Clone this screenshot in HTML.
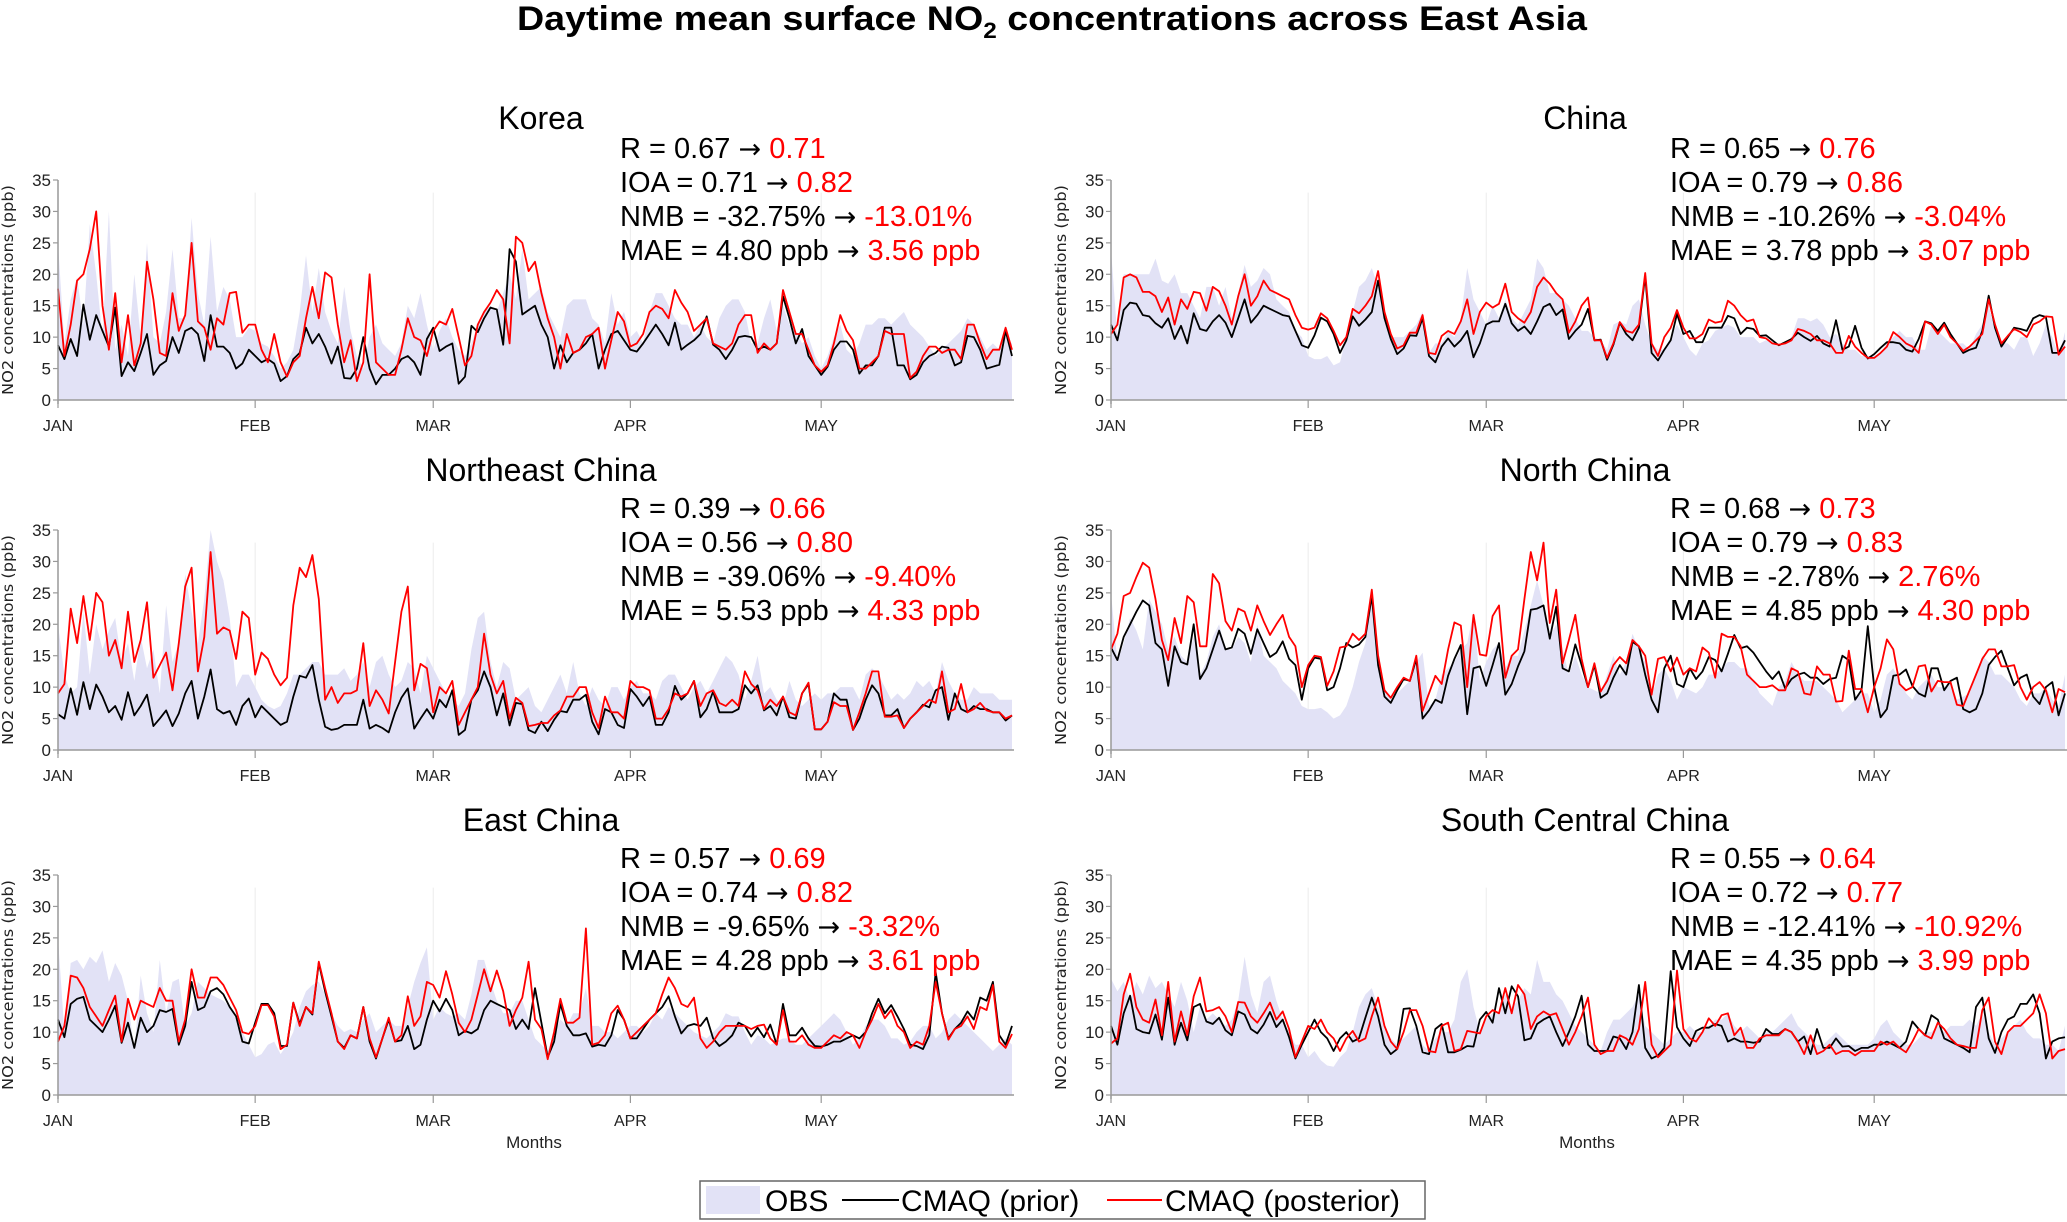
<!DOCTYPE html>
<html><head><meta charset="utf-8"><style>
html,body{margin:0;padding:0;background:#fff;}
svg{display:block;font-family:"Liberation Sans",sans-serif;}
</style></head><body>
<svg id="fig" width="2067" height="1222" viewBox="0 0 2067 1222" xmlns="http://www.w3.org/2000/svg">
<text x="1052" y="30" text-anchor="middle" font-size="34" font-weight="bold" textLength="1070" lengthAdjust="spacingAndGlyphs">Daytime mean surface NO<tspan font-size="22" dy="8">2</tspan><tspan dy="-8"> concentrations across East Asia</tspan></text>
<g id="panels"></g>
<g>
<rect x="700" y="1181" width="725" height="38" fill="#fff" stroke="#666" stroke-width="1.5"/>
<rect x="706" y="1186" width="54" height="28" fill="#e2e2f6"/>
<text x="765" y="1211" font-size="30">OBS</text>
<line x1="842" y1="1200" x2="899" y2="1200" stroke="#000" stroke-width="2"/>
<text x="901" y="1211" font-size="30">CMAQ (prior)</text>
<line x1="1107" y1="1200" x2="1162" y2="1200" stroke="#f00" stroke-width="2"/>
<text x="1165" y="1211" font-size="30">CMAQ (posterior)</text>
</g>
</svg>
<script>
const monthLabels=["JAN","FEB","MAR","APR","MAY"];
const monthStartDays=[0,31,59,90,120];
const yTicks=[0,5,10,15,20,25,30,35];
const regionNames=["Korea","China","Northeast China","North China","East China","South Central China"];
const statR=[["0.67","0.71"],["0.65","0.76"],["0.39","0.66"],["0.68","0.73"],["0.57","0.69"],["0.55","0.64"]];
const statIOA=[["0.71","0.82"],["0.79","0.86"],["0.56","0.80"],["0.79","0.83"],["0.74","0.82"],["0.72","0.77"]];
const statNMB=[["-32.75%","-13.01%"],["-10.26%","-3.04%"],["-39.06%","-9.40%"],["-2.78%","2.76%"],["-9.65%","-3.32%"],["-12.41%","-10.92%"]];
const statMAE=[["4.80 ppb","3.56 ppb"],["3.78 ppb","3.07 ppb"],["5.53 ppb","4.33 ppb"],["4.85 ppb","4.30 ppb"],["4.28 ppb","3.61 ppb"],["4.35 ppb","3.99 ppb"]];

const koreaObs=[25,9,16,19.5,12,28,20,10,30,8,12,7,20,10,25,10,9,14,24,13,13,29,17,12,26,14,18,16,10,10,11.5,11,9,8.5,7,5,6,8,14,23,14,21,14,11,9,18,11,7,5,10,12,9,8,7,9,15,13,17,12,8,11,13,10,8,7,9,12,14,15,14,17,20,16,24,16,17,18,14,12,10,15,16,16,16,13,12,9,17,12,14,10,11,9,14,17,17,15,13,12,12,10,12,10,9,13,15,16,16,14,9,9,13,16,11,15,12,11,9,10,7,5,7,10,12,8,7,9,12,12,13,13,12,13,14,12,11,10,8.5,7,8,9,10,11,13,12,10,8,9,8,10,9];
const koreaPrior=[8.7,6.5,9.7,7,15.2,9.6,13.5,11,8.5,14.7,3.8,6,4.6,7.5,10.5,4,5.5,6.2,10,7.5,11,11.5,10.5,6.2,13.5,8.5,8.5,7.5,5,5.8,8,7,6,6.5,5.8,3,3.8,6.5,7.5,11.5,9,10.5,8.5,5.8,8.5,3.5,3.4,5,10,5,2.5,4,4,5,6.5,7,6,4,9.7,11.5,7.8,8.5,9,2.6,3.7,11.8,10.8,13,14.7,14.4,8.8,24,22,13.6,14.3,15,12,10,5,8.7,6,7.5,8,9,10.5,5,8,10.5,11,9.5,8,7.7,9,10.5,12,10.5,8.7,12.3,8,8.8,9.5,10.5,13.3,8.8,8,6.5,8,10,10.2,10,8,8.5,8,9,16.5,13,9,11.3,7,5.5,4,5.3,8,9.3,9.3,8,4.2,5.5,5.5,7,11.5,11.5,5.5,5.5,3.3,4,6,7,7.5,8.5,8.3,5.5,6,10.2,10,8,5,5.3,5.6,11,7];
const koreaPost=[17.7,7,12,19,20,24,30,15,8,17,6,13.5,5.5,9,22,16,7.5,7,17,11,13.5,25,12.5,11.5,8,13,12,17,17.2,10.7,12,12,8,6,10.5,6,3.7,6,7,13,18,13,20.3,19.5,12,6,9.5,3,6,20,6,5,4,4,8,13,10,9.5,7,11,12.5,12,14.5,10,5.5,7,12,14,15.5,17.5,16,9,26,25,20.5,22,17,13,10,5,10.5,7.5,8,10,10.5,11.5,5,9.5,14,12.5,8.5,9,10.5,14,15,14.5,13,17.5,15.5,14,11,12,13,9,8.5,8,9,12,13.5,13.5,7.5,9,8,9,17.5,14,10.5,10.5,8,5.5,4.5,5.5,9,13.5,11,9.5,5,5,6,7,11,10.5,10.5,10.5,3.5,4.5,7,8.5,8.5,7.5,8,8,6.5,12,12,9,6.5,8,8,11.5,8];

const chinaObs=[24,10,20,20,20,20,20,22.5,19,18.5,20,17,17,15,13,18,18,15,18,13,17,21.5,18,19,21,20,16,15,14,11,10,7,6.5,6.5,7,5.5,6,10,14,18,19,21,18,14,10,10,10,11,12,14,7.5,9,9,11,10,13,21,16,14,12,15,13,16,13,12,14,16,22.5,21,17,17,16,15,13,11,11,10,9.5,8,12,12.5,12,15,16,12,9,8,8,10,12,10,8,7,9,9.5,11,11.5,12,11.5,10,10,10,9,9.5,9,8.5,9,10,13,13,12.5,13,12,10,10.5,9,8,8,7,7,7,7.5,9,10,11,10,10,8,8,12,11,10,9,9,9,8,10.5,12,15,11,9,9,8,10,10,7,9,12,10,7,10.8];
const chinaPrior=[12,9.5,14.3,15.5,15.3,13.5,13.3,12.2,11.5,13,9.7,11.8,9,13.8,11.3,11,12.5,13.5,12.3,10,13,16,12.3,13.5,15,14.5,14,13.5,13.3,11,8.7,8.3,10.3,13.1,12.5,10.5,7.5,9.5,13.3,11.8,12.8,14,19,13,9.7,7.3,8.2,10.3,10.2,13,7,6,8.5,9.8,8.5,9.5,11,6.8,9,12,12.5,12.5,15.3,12.2,11,11.7,10.5,12.5,14.8,15.3,13.5,14.4,9.7,11,12,14.5,9.5,9.6,6.4,8.8,12.3,10.5,9.5,11.5,19.7,7.5,6.3,8,9.5,13.7,10.5,11,9.2,9.2,11.5,11.5,11.5,13.4,13,10.5,11.5,11.3,10.2,10.3,9.5,8.7,9.2,9.7,10.7,10,9.4,10.2,9,8.5,12.7,8,8.5,11.8,8.3,6.6,7.3,8.3,9.2,9.2,9,8,7.7,9.7,12.5,12.2,11,12.3,10.5,9,7.5,8,8.3,11,16.6,11.5,8.5,10,11.5,11.3,11,13,13.5,13.2,7.5,7.5,9.5];
const chinaPost=[10.5,12,19.5,20,19.5,17.2,17.2,16.5,14,16.3,12,16,14.5,17.2,17,14.2,18,17.3,15,12,16.5,20,15,16.5,19,17.5,17,16.5,16,13.5,11.5,11.2,11.5,13.8,13,11,8.7,10,14.5,13.8,15,16.5,20.5,14,10.5,8.2,8.7,10.7,10.7,13.5,7.5,7.3,10.2,11,10.5,12.5,16,10.5,14,15.5,14.7,15.3,18.5,14,13,12.3,14,18,19.5,18.5,17,16,10.7,12.5,15,16.3,9.5,9.5,6.7,9,12.4,11,10.7,12,20.2,9,7,10,11.5,14.3,11.5,9.8,9.8,10.5,12.8,12.3,12.5,15.8,15,13.5,12.5,12.8,10,9.8,9,8.8,9,9.5,11.3,11,10.5,9.5,9.5,9,7.5,7.5,10.2,8.5,7.5,6.7,6.7,7.5,8.5,10.8,10,9,8.5,7.5,12.5,12,10.5,12,10,9,7.8,8.5,9.5,10.5,16,12,9,10.2,11.3,10.8,10,12,12.5,13.3,13.2,7.2,8.5];

const neObs=[20,12,9,10,22,12,20,16,19,21,14,17,11,18,13,16,9,23,14,17,28,22,17,24,35,30,27,21,10,12,12,10,8,7,6.5,7,9,12,12,13,14,14,12,12,12,13,11,12,14,10,14,15,12,10,11,14,13,9,15,13,11,9,8,7,9,16,21,22,14,10,14,13,8,9,10,7,6,8,10,12,9,14,9,7,10,8,7,10,10,8,10,11,9,9,8,11,12,12,10,8,10,11,9,11,13,15,14,12,8,11,15,9,10,8,7,11,8,7,8,9,8,9,9,10,10,10,8,12,13,12,10,8,9,8,9,11,10,11,9,14,11,9,8,8,10,9,9,9,8,8,8];
const nePrior=[5.7,5,9.8,5.6,10.8,6.5,10.4,8.5,6,7,4.8,9.2,5.5,7,8.8,3.8,5,6.3,3.8,5.8,9,11,5,8.5,12.8,6.5,5.8,6.2,4,7,8.2,5.2,7,6,5,4,4.5,8.5,11.8,11.5,13.5,8,3.7,3.2,3.4,4,4,4,8,3.4,4,3.5,2.8,6,8.3,9.8,3.4,5,6.5,5,8,6.8,9.5,2.4,3.2,8,9.5,12.5,10,5.5,9,3.9,7.5,7.3,3.2,2.7,4.5,3,4.8,6.2,6,8,8,8.8,4.5,2.5,6.5,6,4,3.5,9.7,8.5,7,8.5,4,4,6,10.2,8,9,11,5.2,6.5,9.3,6,6,6,6.5,10.3,9,10.3,6.3,7,5.5,8.5,5.2,5,9,10.5,3.3,3.3,4.5,9,8,8,3.2,5,8,10.3,9,5.5,5.5,6.5,3.5,5,6,7.2,6.8,9.5,10,4.8,9,6.5,6,7,6.5,6.5,6,6,4.7,5.5];
const nePost=[9,10.5,22.5,17,24.5,17.5,25,23.5,15,17.5,13,22,14,17.5,23.5,11.5,13.5,15.5,9.5,17,26,29,12.5,18,31.5,18.5,19.5,19,14.5,22,21,12,15.5,14.5,12,10.3,11.5,23,29,27.5,31,24,8,10,7.5,9,9,9.5,17,7,9.5,8,5.8,14,22,26,9.5,13.7,13,6,10,9,11,4,6,8,10,18.5,12,9,11,5,8.3,7.5,3.8,4,4.3,4.3,5.5,6.3,8.5,8.5,10,10,6,3.5,8.5,6,6,5,11,10,10,9.5,5,5,6.5,9,8.5,9,11,7,9,9.5,7.5,7,8,7,12.5,10.5,9.5,6.5,8,7,8.5,6,5.5,9,10.7,3.3,3.3,4.5,7.6,7,7,3.2,6,9,12.5,12.5,5.3,5.3,5.5,3.5,5,6,7,8,7.5,12.5,6,6.5,10.5,6,6.5,7.5,6.3,6,6,5,5.5];

const ncObs=[25,14,17,21,19,16,24,22,20,16,18,15,14,18,12,14,18,20,16,16,18,17,14,20,15,14,13,11,10,9,7,6.5,6.5,6.7,6,5,5.5,7,10,14,17,24.5,15,10,8,9,10,11,14,15.5,7,8,12,13,14,16,17,22,11,14,16,17,13,15,15,19,23,27,23,18,20,16,12,15,12,10,9.5,9,12,15,12,14,18.5,16,14,8.5,12,13,11,8,10,9.5,9,10,12,12,13,14,14,13,13,11,9,8,7,10,11,14,12,11,11,11,10,9,8,6,7,8,9,9,6,8,12,13,11,9,8,10,11,12,10,10,11,8,8.5,9,12,15,14,12,12,11,10,8,7,9,9,10,8,7,12];
const ncPrior=[16.3,14.3,18,20,22,23.8,23,17,16,10.2,16.5,14,13.6,20,11.3,13,16,19,16,16.3,19.3,18.5,15.3,19.2,17,14.8,15.5,17.3,14.5,13.5,8,13,14.7,14.5,9.5,10,13,17,16.3,16.8,18,24.5,13.5,8.5,7.5,9.5,11.3,11,14.5,5,6.3,8,7.5,11.8,14.5,16.7,5.7,13,13.3,10.2,13.5,17,8.8,10.5,13.3,15.7,22.3,22.5,23,17.7,22.8,13,12.5,16.8,13.5,10,13.5,8.3,9,11.5,13.5,12,17.2,16.5,12,8,6,13,15,10.5,10,13,11.3,12.5,14.8,14.3,12.5,15.3,18.3,16.2,16.5,15.5,14,12.5,11.3,12.5,9.8,11.3,12,12.3,11.5,11.5,10.5,11.3,11.5,15,14.3,8,9.5,19.7,10,5.2,6.5,11.8,12,12.8,10.2,9,8.5,13,13,9.5,11,11.5,6.5,6,6.5,9,13.5,14.8,15.8,13,10.3,11.5,12,8.5,7.3,10,10.8,5.5,9];
const ncPost=[16,18.5,24.5,25,27.5,29.8,29,24,17.5,14.3,21,17,24.5,23.5,16.5,16.5,28,26.5,20.5,19,22.5,22,19,23,20.5,18.3,20,21.5,18,16.5,10,13.5,15,14.8,10.2,12.5,16.3,16.5,18.5,17.5,18.5,25.5,15,9.5,8.3,10,11.5,11,15,6.2,9,11.8,10.5,16,20.3,19.8,10,21.5,15.2,15,21.3,23,11.5,15,16,24,31.5,27,33,20.2,25.5,13.8,17.5,21.5,14.5,10,13.8,9.3,11,13.5,14.8,13.8,17.5,16.5,15,8.8,14.5,14.8,12.5,14.7,12,13,12.5,16.3,15.5,11.5,18.5,18,18,16.5,12,11,10,10,10.3,9.5,9.5,13,12.5,9,8.8,13.3,12,12,7.7,7.8,15.8,9.7,9.7,6,10,13,17.6,16,10.5,9.5,10,13.3,13.5,9.3,11,10.8,10.8,7.2,7,9.5,12,14.5,16,16,13.3,13.3,13.5,10,8,10,10.8,9.5,6,9.7,9.2];

const ecObs=[25,10,21,21.5,20,22,21,23,18,21,19,15,7,19,13,10,21.5,13,18,18.5,11,13,18,17,16,15.5,15,14,12,10,8,6,6.5,8,8.5,6.5,8,10,14,16.5,17.5,18,16,13,11,10,10.5,10,12,13,10,11,12,11,11,14,18,21,23.5,12,14,13,12.5,13,12,16,21.5,21.5,18,15,13,13,15,15,12,9,8,7,10,12,11,13,13,17,11,11,10,10,9,10,11,11,10,11,13,12,14,13,12,11,10,9.5,9,10,11,13,12.5,12.5,10,8,9.5,9,8,8.5,9,9,8,8,9,10,11,12,13,12,10,8,9,11,12,12,11,9,9,8,8.5,10,11,11,9,10,12,13,12,11,10,9,8,7,8,9,8];
const ecPrior=[12,9.2,14.5,15.3,15.6,12,11,10,12,14.2,8.3,11.5,7.5,12.3,10,11,13.5,13.2,13.7,8,11,18,13.5,14,16.5,17,16,14,12.5,8.5,8.2,11.5,14.5,14.5,13,7.8,7.8,14.7,11.3,14,12.8,21,16.5,12.5,8.5,7.5,9.5,9,14,8.5,5.8,9,12,8.5,8.7,11,7.3,8,12,15,13.3,15.3,13.5,9.5,10.2,9.8,10.5,13.5,15,14.5,14,13.5,10.5,12,10.5,17,11.5,6,8.5,14.5,11,9.5,9.5,9.8,7.7,8,7.8,9.5,13.5,12,9,9,10.5,12,13,14,15.7,12.5,9.8,11,11.3,11,12.3,9,7.8,8.5,9.5,11.5,11,9.3,10.7,9.2,11.2,8,14.5,9.5,9.5,10.7,9,7.8,7.7,8,8.5,8.5,9,9.5,9,10,13,15.3,13,14.3,12.5,10.5,8,7.8,7.3,9.5,19.5,13,9,10.5,11.5,13.3,12,15.5,15,18,9.5,8,11];
const ecPost=[8.5,11,19,18.7,17,14,12.5,11,13.5,15.8,8.5,15.3,12,15,14.5,14,17,15,15,8.5,12,20,15.5,15.5,18.7,18.7,17.5,15.5,13.5,10,9.7,11,14.3,14.3,12.5,7.3,8,14.7,11,14,13,21.2,17,13,8.5,7.3,9.5,9,14,9,6,9,12.3,8.5,9.5,15.7,11,12.5,18,17.5,15.5,19.7,16,11.5,10,12,16,20,16.5,19.8,16.5,11,13.5,15.5,21.2,12,10.5,5.7,10,15.3,11.5,11.5,12.3,26.5,8,8.3,9.5,13,14.2,12,9,10,11,12,13,16,18.7,17,14.5,14,15.5,9,7.5,8.5,10,11,11,11,11,10.5,11,11.2,9,8,13.5,8.5,8.5,9.5,8,7.5,7.5,8.5,9.5,9,10,9.5,7.5,10,12,14.5,12.2,13.5,11,10,7.5,8.5,8,11,18,13,8.8,10.5,11,12.5,10.5,14,13.5,17.5,8.5,7.5,9.7];

const scObs=[18.5,16.5,18,15,18,16,19,17,18,16,14,18,15,10,14,12,13,12,11,12,15,22,16,13,18,19,15,12,10,8,8,6,7,5.5,4.7,4.5,6,7,10,14,16,17,14,11,9,8,9,10,11,8,7,9,10,10,12,18,20,14,10,12,13,13,16,14,15,17,16,21.5,18,18,16,15,13,11,10,9,8,7,10,12,12,13,14,16,11,10,9,8,9,10,10,11,10,10,11,12,12,13,11,10,11,10,9,10,10,11,12,13,11,10,9,8,8,9,10,9,8,8,8,8,9,11,12,10,9,8,8,9,10,10,11,10,11,11,11,12,11,13,10,8,9,10,11,12,10,9,9,8,8,7,11];
const scPrior=[11,8,13,15.8,10.5,10,9.8,12.8,8.8,15.5,8,11.5,8.7,14,14.5,11.7,11.3,12.3,10.3,9.5,13.3,12.8,10.5,9.8,11.2,13.2,10.8,12,9.2,5.8,8,10,12,10,9,7,9,10,8.5,9,12.3,15.5,12.5,8,6.5,7.3,13.7,13.8,11,6.8,6.5,10.5,11.3,6.8,6.8,7.2,7.8,7.7,12,13.2,11.5,17,13,17.3,15.7,8.7,9,11.3,12,12.5,10,7.8,10,12.5,15.8,8,7,7,7,9.3,9,7.3,10,17.5,7.5,5.8,6.3,7.5,19.7,10.8,9,7.8,10.2,10.7,10.7,11.3,11,8.5,9,8.5,8.5,8.3,8.5,10.5,9.7,9.7,10.5,10,8.5,9.3,6.5,10.5,7.5,7.5,9,7.7,7.8,7,7.5,7.5,8,8,8.5,8,7.5,8.5,11.7,10.5,9.5,12.7,12,9,8.5,8,7.5,6.8,14,15.5,9,6.7,10,12,12.5,14.5,14.5,16,13,5.8,8.5,9,9.2];
const scPost=[8.2,9,16,19.3,14,12,11.5,15.2,9.5,18,8.5,13.3,9.5,15.7,18.7,13.3,13.5,14,12.5,10,14.8,14.7,12.5,11.5,13,14.7,12,13.3,10.5,6,8.5,11,10.5,12,10,9,7,9,10.2,8.5,9,12.5,15.5,11,8.5,7.3,10,13.5,13.5,11,7,6.8,11,11.5,7,7.3,10.2,10,9.8,12.5,13.5,13,17,13,17.5,16,10.5,12.5,13.3,12.7,13,10.5,8,10,12.5,15.5,8,6.5,7,7,9.5,9,8,10.5,18,8,6,7,8,19.8,10.5,9,8.5,10,12.2,11,12.7,13,9.5,10.7,7.5,7.5,9,9.5,9.5,9.5,10.5,10,8.5,6.5,9.5,6.5,7,8,6.5,7,7,6.3,7,7,7,8.5,8,8.5,7.5,6.8,8.5,10.5,9.5,9,11.5,10.5,9,8,7.8,7.5,7.5,13.5,15.5,8.5,6.5,10,11,11,12,13,16,13,5.8,7,7.3];

const obsSeries=[koreaObs,chinaObs,neObs,ncObs,ecObs,scObs];
const priorSeries=[koreaPrior,chinaPrior,nePrior,ncPrior,ecPrior,scPrior];
const postSeries=[koreaPost,chinaPost,nePost,ncPost,ecPost,scPost];

const NS="http://www.w3.org/2000/svg";
const root=document.getElementById("panels");
function mk(tag,attrs,parent,txt){const e=document.createElementNS(NS,tag);for(const k in attrs)e.setAttribute(k,attrs[k]);if(txt!==undefined)e.textContent=txt;parent.appendChild(e);return e;}
const colX=[58,1111], rowY=[400,750,1095], plotH=220, dayW=6.36, yMax=35;
const titleY=[118,470,820], statY=[158,518,868];
const titleX=[541,1585], statX=[620,1670];

for(let p=0;p<6;p++){
  const c=p%2, r=Math.floor(p/2);
  const x0=colX[c], y0=rowY[r];
  const xs=d=>x0+d*dayW;
  const ys=v=>y0-v/yMax*plotH;
  const g=mk("g",{},root);
  
  
  monthStartDays.forEach((d,i)=>{
    if(i>0){const gl=mk("line",{x1:xs(d),x2:xs(d),y1:ys(33),y2:y0,stroke:"#ececec","stroke-width":1},g);
    
    }
  });
  const obs=obsSeries[p];
  let dA="M"+xs(0)+","+y0;
  obs.forEach((v,i)=>{dA+=" L"+xs(i).toFixed(1)+","+ys(v).toFixed(1);});
  dA+=" L"+xs(obs.length-1)+","+y0+" Z";
  const area=mk("path",{d:dA,fill:"#e2e2f6",stroke:"none"},g);
  
  
  function line(arr,col,name){
    let d="";arr.forEach((v,i)=>{d+=(i?" L":"M")+xs(i).toFixed(1)+","+ys(v).toFixed(1);});
    const l=mk("path",{d:d,fill:"none",stroke:col,"stroke-width":1.8,"stroke-linejoin":"round"},g);
    
    
  }
  line(priorSeries[p],"#000","prior-line");
  line(postSeries[p],"#f00","posterior-line");
  const ya=mk("line",{x1:x0,x2:x0,y1:ys(35),y2:y0+4,stroke:"#999","stroke-width":1.5},g);
  
  
  const xa=mk("line",{x1:x0,x2:xs(150)+2,y1:y0,y2:y0,stroke:"#999","stroke-width":1.5},g);
  
  
  yTicks.forEach(t=>{
    mk("line",{x1:x0-5,x2:x0,y1:ys(t),y2:ys(t),stroke:"#999","stroke-width":1.2},g);
    const tl=mk("text",{x:x0-7,y:ys(t)+6,"text-anchor":"end","font-size":17,fill:"#222"},g,String(t));
    
    
  });
  monthStartDays.forEach((d,i)=>{
    mk("line",{x1:xs(d),x2:xs(d),y1:y0,y2:y0+8,stroke:"#999","stroke-width":1.2},g);
    const ml=mk("text",{x:xs(d),y:y0+31,"text-anchor":"middle","font-size":16,fill:"#222"},g,monthLabels[i]);
    
    
  });
  const yl=mk("text",{x:0,y:0,transform:"translate("+(x0-45)+","+(y0-plotH/2)+") rotate(-90)","text-anchor":"middle","font-size":15,fill:"#222","font-family":"DejaVu Sans, sans-serif",textLength:210,lengthAdjust:"spacingAndGlyphs"},g,"NO2 concentrations (ppb)");
  
  
  const tt=mk("text",{x:titleX[c],y:titleY[r]+11,"text-anchor":"middle","font-size":32},g,regionNames[p]);
  
  
  const stats=[["R",statR[p]],["IOA",statIOA[p]],["NMB",statNMB[p]],["MAE",statMAE[p]]];
  stats.forEach((s,k)=>{
    const st=mk("text",{x:statX[c],y:statY[r]+k*34,"font-size":29},g);
    
    
    mk("tspan",{},st,s[0]+" = "+s[1][0]+" ");
    mk("tspan",{"font-family":"DejaVu Sans, sans-serif","font-size":27},st,"\u2192");
    mk("tspan",{},st," ");
    mk("tspan",{fill:"#f00"},st,s[1][1]);
  });
  if(r===2){
    const mx=mk("text",{x:x0+476,y:1148,"text-anchor":"middle","font-size":17,fill:"#222"},g,"Months");
    
    
  }
}
</script>
</body></html>
